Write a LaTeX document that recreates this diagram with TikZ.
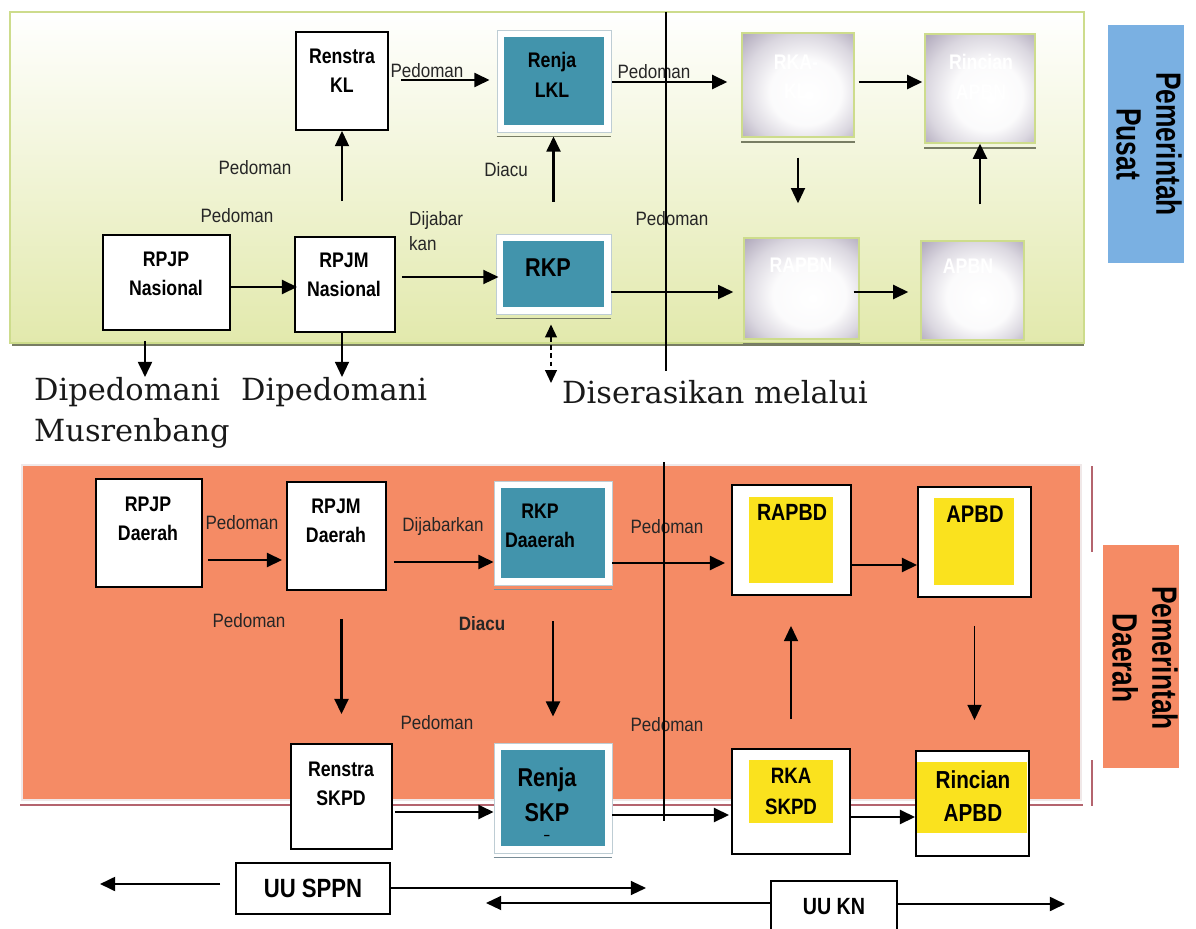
\documentclass[tikz,border=0pt]{standalone}
\usepackage{fontspec}
\setmainfont{Liberation Sans}
\newfontfamily\fNar[FakeStretch=0.84]{Liberation Sans}
\newfontfamily\fLab[FakeStretch=0.88]{Liberation Sans}
\newfontfamily\fRot[FakeStretch=0.75]{Liberation Sans}
\newfontfamily\fSer{DejaVu Serif}
\usetikzlibrary{arrows.meta,calc}
\definecolor{tealc}{RGB}{66,148,172}
\definecolor{orc}{RGB}{245,139,101}
\definecolor{bluec}{RGB}{122,176,226}
\definecolor{yelc}{RGB}{250,226,30}
\definecolor{grayc}{RGB}{150,140,165}
\definecolor{greenc}{RGB}{226,233,172}
\definecolor{gedge}{RGB}{205,220,140}
\definecolor{shdc}{RGB}{120,125,100}
\definecolor{pinkc}{RGB}{180,100,110}
\pgfdeclareradialshading{gshade}{\pgfpoint{5bp}{-5bp}}{color(0bp)=(white); color(16bp)=(white!96!grayc); color(27bp)=(grayc!35!white); color(38bp)=(grayc!80!white); color(50bp)=(grayc)}
\newcommand\mkbox[7]{%
 \pgfmathsetmacro\mkw{(#4-#2)*0.03}%
 \pgfmathsetmacro\mkh{(#5-#3)*0.03}%
 \node[#6, minimum width=\mkw cm, minimum height=\mkh cm, inner sep=0pt] (#1) at ({(#2+#4)/2},{(#3+#5)/2}) {#7};}
\tikzset{
 wbox/.style={draw=black, fill=white, line width=1.6pt},
 tealbox/.style={draw={rgb,255:red,190;green,205;blue,212}, fill=white, line width=0.8pt,
   path picture={\fill[tealc] ([shift={(7,-7)}]path picture bounding box.south west) rectangle ([shift={(-7,7)}]path picture bounding box.north east);}},
 yel/.style n args={4}{draw=black, fill=white, line width=1.6pt,
   path picture={\fill[yelc] ([shift={(#1,-#4)}]path picture bounding box.south west) rectangle ([shift={(-#2,#3)}]path picture bounding box.north east);}},
 graybox/.style={draw=gedge, line width=1.2pt, shading=gshade},
 shd/.style={draw=shdc, line width=1.5pt},
 arr/.style={-{Triangle[length=13pt,width=12pt]}, line width=1.9pt},
 arrt/.style={arr, line width=1.4pt},
 darr/.style={{Triangle[length=11pt,width=10pt]}-{Triangle[length=11pt,width=10pt]}, line width=1.5pt, dash pattern=on 4pt off 3pt},
 bt/.style={font=\fNar\bfseries\fontsize{18}{25}\selectfont, align=center, inner sep=0pt, text=black},
 fs/.style 2 args={font=\fNar\bfseries\fontsize{#1}{#2}\selectfont},
 wt/.style={bt, text=white},
 lb/.style={font=\fLab\fontsize{16.5}{21}\selectfont, inner sep=0pt, text=black!85},
 rt/.style={font=\fRot\bfseries\fontsize{30}{34}\selectfont, rotate=-90, align=center, inner sep=0pt},
 sf/.style={font=\fSer\fontsize{26}{30}\selectfont, anchor=base west, inner sep=0pt, text=black!90},
 vline/.style={line width=1.3pt}
}
\begin{document}
\begin{tikzpicture}[x=0.03cm, y=-0.03cm]
\useasboundingbox (0,0) rectangle (1196,929);
% panels
\path[top color=white, bottom color=greenc, draw=gedge, line width=1pt] (10,12) rectangle (1084,343);
\draw[shd, line width=1.8pt] (12,345) -- (1084,345);
\path[fill=orc, draw={rgb,255:red,240;green,232;blue,232}, line width=2pt] (22,465) rectangle (1081,800);
\draw[pinkc, line width=1.8pt] (20,805) -- (1083,805);
\draw[pinkc, line width=1pt] (1092,466) -- (1092,552) (1092,760) -- (1092,806);
\fill[bluec] (1108,25) rectangle (1184,263);
\node[rt] (pusat) at (1149,144) {Pemerintah\\Pusat};
\fill[orc] (1103,545) rectangle (1179,768);
\node[rt] (daerah) at (1145,658) {Pemerintah\\Daerah};
% top boxes
\mkbox{renstra}{296}{32}{388}{130}{wbox}{}
\mkbox{renjaL}{497}{30}{611}{132}{tealbox}{}
\mkbox{rkpN}{496}{234}{611}{314}{tealbox}{}
\mkbox{rka}{742}{33}{854}{137}{graybox}{}
\mkbox{rincianN}{925}{34}{1035}{143}{graybox}{}
\mkbox{rapbn}{744}{238}{859}{339}{graybox}{}
\mkbox{apbn}{921}{241}{1024}{340}{graybox}{}
\mkbox{rpjpN}{103}{235}{230}{330}{wbox}{}
\mkbox{rpjmN}{295}{237}{395}{332}{wbox}{}
\foreach \n in {renjaL,rkpN,rka,rincianN,rapbn,apbn}
  \draw[shd] ($(\n.south west)+(0,4)$) -- ($(\n.south east)+(0,4)$);
\node[bt] (renstraT) at (342,71) {Renstra\\KL};
\node[bt] (renjaLT) at (552,75) {Renja\\LKL};
\node[bt, fs={22}{26}] (rkpNT) at (548,268) {RKP};
\node[wt] (rkaT) at (796,77) {RKA-\\KL};
\node[wt] (rincianNT) at (981,77) {Rincian\\APBN};
\node[wt] (rapbnT) at (801,265) {RAPBN};
\node[wt] (apbnT) at (968,266) {APBN};
\node[bt] (rpjpNT) at (166,274) {RPJP\\Nasional};
\node[bt] (rpjmNT) at (344,275) {RPJM\\Nasional};
% top labels
\node[lb] (l1) at (427,71) {Pedoman};
\node[lb] (l2) at (654,72) {Pedoman};
\node[lb] (l3) at (255,168) {Pedoman};
\node[lb] (l4) at (237,216) {Pedoman};
\node[lb, align=left, anchor=west] (l5) at (409,231) {Dijabar\\kan};
\node[lb] (l6) at (506,170) {Diacu};
\node[lb] (l7) at (672,219) {Pedoman};
% top arrows
\draw[arr, shorten <=0.36cm, shorten >=0.21cm] (renstra.east |- 0,80) -- (renjaL.west |- 0,80);
\draw[arr, shorten <=0.03cm, shorten >=0.42cm] (renjaL.east |- 0,82) -- (rka.west |- 0,82);
\draw[arr, shorten <=0.12cm, shorten >=0.06cm] (rka.east |- 0,82) -- (rincianN.west |- 0,82);
\draw[arrt, shorten <=0.6cm, shorten >=1.02cm] (rka.south) -- (rka.south |- rapbn.north);
\draw[arr, shorten <=1.08cm] (rincianN.south |- apbn.north) -- (rincianN.south);
\draw[arrt, shorten <=1.05cm] (renstra.south |- rpjmN.north) -- (renstra.south);
\draw[arr, shorten >=-0.09cm] (rpjpN.east |- 0,287) -- (rpjmN.west |- 0,287);
\draw[arrt, shorten <=0.18cm, shorten >=-0.09cm] (rpjmN.east |- 0,277) -- (rkpN.west |- 0,277);
\draw[arr, shorten <=0.96cm, shorten >=0.12cm] (rkpN.north) -- (rkpN.north |- renjaL.south);
\draw[arrt, shorten >=0.3cm] (rkpN.east |- 0,292) -- (rapbn.west |- 0,292);
\draw[arr, shorten <=-0.18cm, shorten >=0.36cm] (rapbn.east |- 0,292) -- (apbn.west |- 0,292);
% below top panel
\node[sf] (dip1) at (34,400) {Dipedomani};
\node[sf] (dip2) at (241,400) {Dipedomani};
\node[sf] (musr) at (34,441) {Musrenbang};
\node[sf] (seras) at (562,403) {Diserasikan melalui};
\coordinate (c1) at (145,377);
\coordinate (c2) at (342,377);
\coordinate (c3) at (551,383);
\draw[arr, shorten <=0.3cm] (rpjpN.south -| c1) -- (c1);
\draw[arrt] (rpjmN.south -| c2) -- (c2);
\draw[darr, shorten <=0.3cm] (rkpN.south -| c3) -- (c3);
% bottom boxes
\mkbox{rpjpD}{96}{479}{202}{587}{wbox}{}
\mkbox{rpjmD}{287}{482}{386}{590}{wbox}{}
\mkbox{rkpD}{494}{481}{612}{585}{tealbox}{}
\mkbox{rapbd}{732}{485}{851}{595}{yel={17}{18}{12}{12}}{}
\mkbox{apbd}{918}{487}{1031}{597}{yel={16}{17}{11}{12}}{}
\mkbox{renstraS}{291}{744}{392}{849}{wbox}{}
\mkbox{renjaS}{494}{743}{612}{853}{tealbox}{}
\mkbox{rkaS}{732}{749}{850}{854}{yel={17}{17}{11}{31}}{}
\mkbox{rincianD}{916}{751}{1029}{856}{yel={1}{2}{11}{23}}{}
\mkbox{uusppn}{236}{863}{390}{914}{wbox, fs={22.5}{26}}{UU SPPN}
\mkbox{uukn}{771}{881}{897}{945}{wbox}{}
\foreach \n in {rkpD,renjaS}
  \draw[shd, draw={rgb,255:red,120;green,140;blue,150}] ($(\n.south west)+(0,4)$) -- ($(\n.south east)+(0,4)$);
\node[bt] (rpjpDT) at (148,519) {RPJP\\Daerah};
\node[bt] (rpjmDT) at (336,521) {RPJM\\Daerah};
\node[bt] (rkpDT) at (540,526) {RKP\\Daaerah};
\node[bt, fs={20}{24}] (rapbdT) at (792,512) {RAPBD};
\node[bt, fs={20.5}{24}] (apbdT) at (975,514) {APBD};
\node[bt] (renstraST) at (341,784) {Renstra\\SKPD};
\node[bt, fs={22}{30}] (renjaST) at (547,795) {Renja\\SKP};
\node[bt, fs={11}{13}] (dashT) at (547,837) {–};
\node[bt, fs={19}{26.5}] (rkaST) at (791,791) {RKA\\SKPD};
\node[bt, fs={21}{28}] (rincianDT) at (973,796) {Rincian\\APBD};
\node[bt, fs={20}{24}] (uuknT) at (834,907) {UU KN};
% bottom labels
\node[lb] (m1) at (242,523) {Pedoman};
\node[lb] (m2) at (443,526) {Dijabarkan};
\node[lb] (m3) at (667,527) {Pedoman};
\node[lb] (m4) at (249,621) {Pedoman};
\node[lb, font=\fLab\bfseries\fontsize{16.5}{20}\selectfont] (m5) at (482,624) {Diacu};
\node[lb] (m6) at (437,723) {Pedoman};
\node[lb] (m7) at (667,725) {Pedoman};
% bottom arrows
\draw[arr, shorten <=0.15cm, shorten >=0.12cm] (rpjpD.east |- 0,560) -- (rpjmD.west |- 0,560);
\draw[arr, shorten <=0.21cm] (rpjmD.east |- 0,562) -- (rkpD.west |- 0,562);
\draw[arr, shorten >=0.18cm] (rkpD.east |- 0,563) -- (rapbd.west |- 0,563);
\draw[arr] (rapbd.east |- 0,565) -- (apbd.west |- 0,565);
\draw[arr, shorten <=0.84cm, shorten >=0.87cm] (renstraS.north |- rpjmD.south) -- (renstraS.north);
\draw[arr, shorten <=1.08cm, shorten >=0.78cm] (rkpD.south) -- (rkpD.south |- renjaS.north);
\draw[arr, shorten <=0.06cm] (renstraS.east |- 0,812) -- (renjaS.west |- 0,812);
\draw[arr, shorten >=0.06cm] (renjaS.east |- 0,815) -- (rkaS.west |- 0,815);
\draw[arrt, shorten <=0.87cm, shorten >=0.9cm] (rkaS.north) -- (rkaS.north |- rapbd.south);
\draw[arrt, shorten <=0.84cm, shorten >=0.9cm] (apbd.south) -- (apbd.south |- rincianD.north);
\draw[arr] (rkaS.east |- 0,817) -- (rincianD.west |- 0,817);
% UU arrows
\coordinate (uL) at (100,884);
\coordinate (uR) at (646,888);
\coordinate (kL) at (486,903);
\coordinate (kR) at (1065,904);
\draw[arr, shorten <=0.45cm] (uusppn.west |- uL) -- (uL);
\draw[arrt] (uusppn.east |- uR) -- (uR);
\draw[arrt] (uukn.west |- kL) -- (kL);
\draw[arr] (uukn.east |- kR) -- (kR);
% vertical lines
\draw[vline] (666,12) -- (666,371);
\draw[vline] (664,462) -- (664,821);
\end{tikzpicture}
\end{document}
